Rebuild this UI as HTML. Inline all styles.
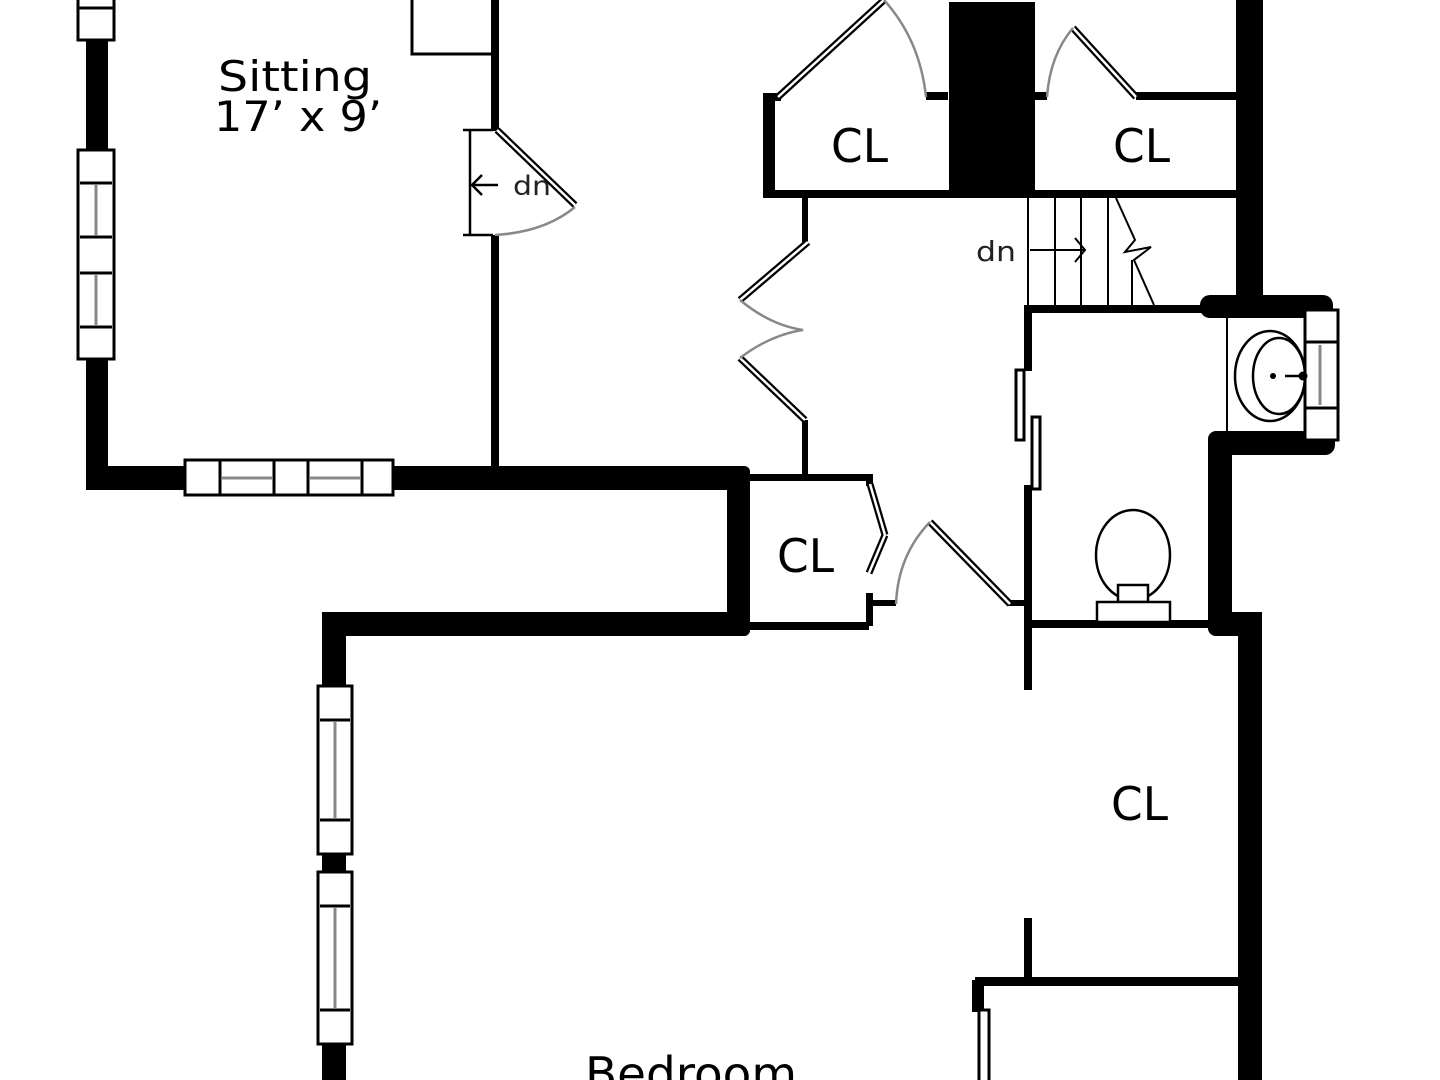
<!DOCTYPE html>
<html><head><meta charset="utf-8"><style>html,body{margin:0;padding:0;background:#fff}svg{display:block}</style></head>
<body>
<svg width="1440" height="1080" viewBox="0 0 1440 1080" xmlns="http://www.w3.org/2000/svg" font-family="DejaVu Sans, Liberation Sans, sans-serif">
<rect width="1440" height="1080" fill="#fff"/>
<g fill="#000">
<rect x="86" y="0" width="22" height="490"/>
<rect x="86" y="466" width="664" height="24" rx="6"/>
<rect x="727" y="466" width="23" height="170" rx="6"/>
<rect x="322" y="612" width="428" height="24" rx="6"/>
<rect x="322" y="612" width="24" height="468"/>
<rect x="491" y="0" width="8" height="131"/>
<rect x="491" y="235" width="8" height="233"/>
<rect x="763" y="93" width="12" height="105"/>
<rect x="763" y="93" width="18" height="8"/>
<rect x="763" y="190" width="475" height="8"/>
<rect x="926" y="92" width="22" height="8"/>
<rect x="949" y="2" width="86" height="195"/>
<rect x="1035" y="92" width="12" height="8"/>
<rect x="1136" y="92" width="102" height="8"/>
<rect x="1236" y="0" width="27" height="318"/>
<rect x="1200" y="295" width="133" height="23" rx="10"/>
<rect x="1208" y="431" width="127" height="24" rx="10"/>
<rect x="1208" y="431" width="24" height="205" rx="8"/>
<rect x="1208" y="612" width="54" height="24" rx="8"/>
<rect x="1238" y="612" width="24" height="468"/>
<rect x="802" y="198" width="6" height="44"/>
<rect x="802" y="420" width="6" height="55"/>
<rect x="1024" y="305" width="212" height="8"/>
<rect x="1024" y="305" width="8" height="66"/>
<rect x="1024" y="485" width="8" height="205"/>
<rect x="1032" y="620" width="178" height="8"/>
<rect x="749" y="474" width="120" height="7"/>
<rect x="749" y="622" width="120" height="8"/>
<rect x="866" y="474" width="7" height="12"/>
<rect x="866" y="593" width="7" height="33"/>
<rect x="866" y="600" width="30" height="6"/>
<rect x="1008" y="600" width="18" height="6"/>
<rect x="1024" y="918" width="8" height="62"/>
<rect x="975" y="977" width="265" height="9"/>
<rect x="972" y="980" width="12" height="32"/>
</g>
<path d="M412 0 V54 H495" fill="none" stroke="#000" stroke-width="3"/>
<g fill="#fff" stroke="#000" stroke-width="3">
<rect x="78" y="-5" width="36" height="45"/><line x1="78" y1="8" x2="114" y2="8"/>
<rect x="78" y="150" width="36" height="209"/>
<line x1="80" y1="183" x2="112" y2="183"/><line x1="80" y1="237" x2="112" y2="237"/><line x1="80" y1="273" x2="112" y2="273"/><line x1="80" y1="327" x2="112" y2="327"/>
<rect x="185" y="460" width="208" height="35"/>
<line x1="220" y1="461" x2="220" y2="494"/><line x1="274" y1="461" x2="274" y2="494"/><line x1="308" y1="461" x2="308" y2="494"/><line x1="362" y1="461" x2="362" y2="494"/>
<rect x="318" y="686" width="34" height="168"/>
<line x1="320" y1="720" x2="350" y2="720"/><line x1="320" y1="820" x2="350" y2="820"/>
<rect x="318" y="872" width="34" height="172"/>
<line x1="320" y1="906" x2="350" y2="906"/><line x1="320" y1="1010" x2="350" y2="1010"/>
<rect x="1305" y="310" width="33" height="130"/>
<line x1="1306" y1="342" x2="1337" y2="342"/><line x1="1306" y1="408" x2="1337" y2="408"/>
<rect x="979" y="1010" width="10" height="75"/>
<rect x="1016" y="370" width="8" height="70"/>
<rect x="1032" y="417" width="8" height="72"/>
</g>
<g stroke="#888" stroke-width="3">
<line x1="96" y1="185" x2="96" y2="235"/><line x1="96" y1="275" x2="96" y2="325"/>
<line x1="222" y1="478" x2="272" y2="478"/><line x1="310" y1="478" x2="360" y2="478"/>
<line x1="335" y1="722" x2="335" y2="818"/><line x1="335" y1="908" x2="335" y2="1008"/>
<line x1="1320" y1="345" x2="1320" y2="405"/>
</g>
<g stroke="#000" stroke-width="7" stroke-linecap="butt">
<line x1="497" y1="130" x2="575" y2="205"/>
<line x1="778" y1="97" x2="884" y2="0"/>
<line x1="1073" y1="28" x2="1136" y2="97"/>
<line x1="808" y1="242" x2="740" y2="300"/>
<line x1="740" y1="358" x2="805" y2="420"/>
<line x1="870" y1="484" x2="885" y2="535"/>
<line x1="885" y1="535" x2="869" y2="573"/>
<line x1="930" y1="522" x2="1010" y2="604"/>
</g>
<g stroke="#fff" stroke-width="2.5">
<line x1="497" y1="130" x2="575" y2="205"/>
<line x1="778" y1="97" x2="884" y2="0"/>
<line x1="1073" y1="28" x2="1136" y2="97"/>
<line x1="808" y1="242" x2="740" y2="300"/>
<line x1="740" y1="358" x2="805" y2="420"/>
<line x1="870" y1="484" x2="885" y2="535"/>
<line x1="885" y1="535" x2="869" y2="573"/>
<line x1="930" y1="522" x2="1010" y2="604"/>
</g>
<g fill="none" stroke="#888" stroke-width="2.5">
<path d="M575 207 Q545 232 495 235"/>
<path d="M884 0 Q920 40 926 97"/>
<path d="M1073 28 Q1050 55 1047 97"/>
<path d="M740 300 Q770 325 803 330 Q770 335 740 358"/>
<path d="M930 522 Q898 555 896 604"/>
</g>
<g fill="none" stroke="#000" stroke-width="2.5">
<path d="M463 130 H493 M470 130 V235 M463 235 H493"/>
<path d="M472 185 H498 M482 175 L472 185 L482 195"/>
</g>
<text x="513" y="195" font-size="27" fill="#222" textLength="38" lengthAdjust="spacingAndGlyphs">dn</text>
<g stroke="#000" stroke-width="2" fill="none">
<line x1="1028" y1="198" x2="1028" y2="305"/><line x1="1055" y1="198" x2="1055" y2="305"/><line x1="1081" y1="198" x2="1081" y2="305"/><line x1="1108" y1="198" x2="1108" y2="305"/><line x1="1132" y1="260" x2="1132" y2="305"/>
<path d="M1116 198 L1135 240 L1125 252 L1151 247 L1134 260 L1154 305"/>
<path d="M1030 250 H1085 M1075 238 L1085 250 L1075 262"/>
</g>
<text x="976" y="261" font-size="28" fill="#222" textLength="40" lengthAdjust="spacingAndGlyphs">dn</text>
<line x1="1227" y1="318" x2="1227" y2="432" stroke="#000" stroke-width="2"/>
<ellipse cx="1270" cy="376" rx="35" ry="45" fill="none" stroke="#000" stroke-width="2.5"/>
<ellipse cx="1279" cy="376" rx="26" ry="38" fill="none" stroke="#000" stroke-width="2.5"/>
<circle cx="1273" cy="376" r="3" fill="#000"/><line x1="1285" y1="376" x2="1302" y2="376" stroke="#000" stroke-width="2.5"/><circle cx="1303" cy="376" r="4.5" fill="#000"/>
<ellipse cx="1133" cy="555" rx="37" ry="45" fill="none" stroke="#000" stroke-width="2.5"/>
<rect x="1118" y="585" width="30" height="17" fill="#fff" stroke="#000" stroke-width="2.5"/>
<rect x="1097" y="602" width="73" height="20" fill="#fff" stroke="#000" stroke-width="2.5"/>
<g fill="#000">
<text x="218" y="91" font-size="42" textLength="154" lengthAdjust="spacingAndGlyphs">Sitting</text>
<text x="214" y="131" font-size="42" textLength="168" lengthAdjust="spacingAndGlyphs">17’ x 9’</text>
<text x="831" y="162" font-size="46" textLength="57" lengthAdjust="spacingAndGlyphs">CL</text>
<text x="1113" y="162" font-size="46" textLength="57" lengthAdjust="spacingAndGlyphs">CL</text>
<text x="777" y="572" font-size="46" textLength="57" lengthAdjust="spacingAndGlyphs">CL</text>
<text x="1111" y="820" font-size="46" textLength="57" lengthAdjust="spacingAndGlyphs">CL</text>
<text x="585" y="1090" font-size="46" textLength="212" lengthAdjust="spacingAndGlyphs">Bedroom</text>
</g>
</svg>
</body></html>
